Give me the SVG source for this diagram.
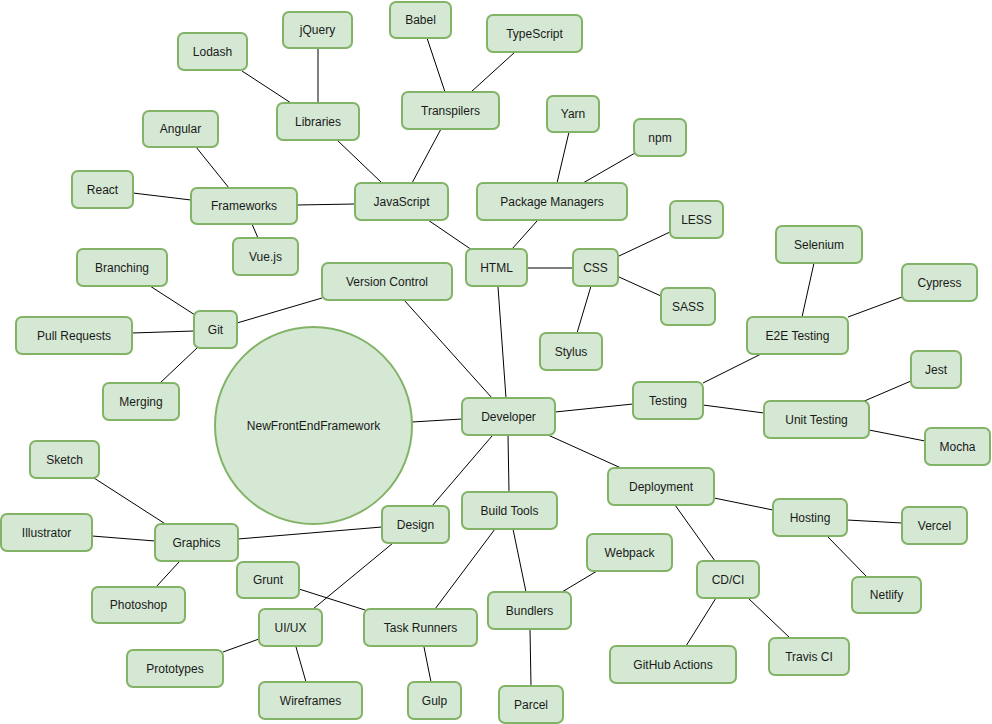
<svg xmlns="http://www.w3.org/2000/svg" width="992" height="724" viewBox="0 0 992 724">
<style>
.n rect, .n circle { fill: #d5e8d4; stroke: #82b366; stroke-width: 2; }
.n text { font-family: "Liberation Sans", Arial, sans-serif; font-size: 12px; fill: #1a1a1a; text-anchor: middle; dominant-baseline: central; }
#edges line { stroke: #000; stroke-width: 1; }
</style>
<rect width="992" height="724" fill="#fff"/>
<g id="edges">
<line x1="242" y1="71" x2="291" y2="103"/>
<line x1="318" y1="48" x2="318" y2="103"/>
<line x1="337" y1="140" x2="382" y2="183"/>
<line x1="427" y1="38" x2="445" y2="92"/>
<line x1="515" y1="52" x2="471" y2="92"/>
<line x1="441" y1="129" x2="412" y2="183"/>
<line x1="569" y1="132" x2="557" y2="183"/>
<line x1="635" y1="153" x2="583" y2="183"/>
<line x1="537" y1="221" x2="512" y2="249"/>
<line x1="428" y1="220" x2="472" y2="250"/>
<line x1="527" y1="268" x2="573" y2="268"/>
<line x1="619" y1="256" x2="670" y2="232"/>
<line x1="619" y1="277" x2="661" y2="296"/>
<line x1="591" y1="286" x2="577" y2="333"/>
<line x1="498" y1="287" x2="506" y2="398"/>
<line x1="404" y1="300" x2="492" y2="398"/>
<line x1="412" y1="422" x2="462" y2="419"/>
<line x1="555" y1="412" x2="633" y2="404"/>
<line x1="548" y1="435" x2="621" y2="468"/>
<line x1="508" y1="435" x2="509" y2="492"/>
<line x1="492" y1="436" x2="432" y2="506"/>
<line x1="703" y1="383" x2="761" y2="354"/>
<line x1="814" y1="263" x2="802" y2="317"/>
<line x1="902" y1="297" x2="848" y2="317"/>
<line x1="703" y1="405" x2="764" y2="413"/>
<line x1="911" y1="381" x2="862" y2="402"/>
<line x1="869" y1="430" x2="925" y2="441"/>
<line x1="714" y1="498" x2="773" y2="510"/>
<line x1="847" y1="520" x2="902" y2="523"/>
<line x1="828" y1="537" x2="867" y2="577"/>
<line x1="675" y1="505" x2="715" y2="561"/>
<line x1="716" y1="598" x2="686" y2="646"/>
<line x1="748" y1="598" x2="790" y2="638"/>
<line x1="562" y1="592" x2="597" y2="571"/>
<line x1="495" y1="529" x2="435" y2="609"/>
<line x1="513" y1="529" x2="526" y2="592"/>
<line x1="530" y1="629" x2="531" y2="686"/>
<line x1="382" y1="527" x2="238" y2="539"/>
<line x1="393" y1="543" x2="313" y2="609"/>
<line x1="299" y1="589" x2="365" y2="610"/>
<line x1="424" y1="647" x2="431" y2="682"/>
<line x1="259" y1="639" x2="223" y2="652"/>
<line x1="296" y1="647" x2="306" y2="682"/>
<line x1="94" y1="478" x2="167" y2="525"/>
<line x1="92" y1="536" x2="155" y2="541"/>
<line x1="179" y1="562" x2="156" y2="587"/>
<line x1="297" y1="205" x2="355" y2="204"/>
<line x1="133" y1="193" x2="191" y2="200"/>
<line x1="196" y1="147" x2="229" y2="188"/>
<line x1="252" y1="224" x2="258" y2="238"/>
<line x1="150" y1="286" x2="195" y2="315"/>
<line x1="132" y1="333" x2="194" y2="331"/>
<line x1="160" y1="383" x2="197" y2="348"/>
<line x1="237" y1="323" x2="322" y2="298"/>
</g>
<g id="center" class="n"><circle cx="313.5" cy="425.5" r="98.5"/><text x="313.5" y="425.5">NewFrontEndFramework</text></g>
<g id="lodash" class="n"><rect x="178" y="33" width="69" height="37" rx="6"/><text x="212.5" y="51.5">Lodash</text></g>
<g id="jquery" class="n"><rect x="283" y="12" width="69" height="36" rx="6"/><text x="317.5" y="30">jQuery</text></g>
<g id="libraries" class="n"><rect x="277" y="103" width="82" height="37" rx="6"/><text x="318" y="121.5">Libraries</text></g>
<g id="babel" class="n"><rect x="390" y="2" width="61" height="36" rx="6"/><text x="420.5" y="20">Babel</text></g>
<g id="typescript" class="n"><rect x="487" y="15" width="95" height="37" rx="6"/><text x="534.5" y="33.5">TypeScript</text></g>
<g id="transpilers" class="n"><rect x="402" y="92" width="97" height="37" rx="6"/><text x="450.5" y="110.5">Transpilers</text></g>
<g id="yarn" class="n"><rect x="547" y="96" width="52" height="36" rx="6"/><text x="573" y="114">Yarn</text></g>
<g id="npm" class="n"><rect x="634" y="119" width="52" height="37" rx="6"/><text x="660" y="137.5">npm</text></g>
<g id="packagemanagers" class="n"><rect x="477" y="183" width="150" height="37" rx="6"/><text x="552" y="201.5">Package Managers</text></g>
<g id="angular" class="n"><rect x="143" y="111" width="75" height="36" rx="6"/><text x="180.5" y="129">Angular</text></g>
<g id="react" class="n"><rect x="72" y="171" width="61" height="37" rx="6"/><text x="102.5" y="189.5">React</text></g>
<g id="frameworks" class="n"><rect x="191" y="188" width="106" height="36" rx="6"/><text x="244" y="206">Frameworks</text></g>
<g id="javascript" class="n"><rect x="355" y="183" width="93" height="37" rx="6"/><text x="401.5" y="201.5">JavaScript</text></g>
<g id="vuejs" class="n"><rect x="233" y="238" width="65" height="37" rx="6"/><text x="265.5" y="256.5">Vue.js</text></g>
<g id="branching" class="n"><rect x="77" y="249" width="90" height="37" rx="6"/><text x="122" y="267.5">Branching</text></g>
<g id="versioncontrol" class="n"><rect x="322" y="263" width="130" height="37" rx="6"/><text x="387" y="281.5">Version Control</text></g>
<g id="html" class="n"><rect x="466" y="249" width="61" height="37" rx="6"/><text x="496.5" y="267.5">HTML</text></g>
<g id="css" class="n"><rect x="573" y="249" width="45" height="37" rx="6"/><text x="595.5" y="267.5">CSS</text></g>
<g id="less" class="n"><rect x="670" y="201" width="53" height="37" rx="6"/><text x="696.5" y="219.5">LESS</text></g>
<g id="sass" class="n"><rect x="661" y="288" width="54" height="37" rx="6"/><text x="688" y="306.5">SASS</text></g>
<g id="stylus" class="n"><rect x="540" y="333" width="62" height="37" rx="6"/><text x="571" y="351.5">Stylus</text></g>
<g id="selenium" class="n"><rect x="776" y="226" width="86" height="37" rx="6"/><text x="819" y="244.5">Selenium</text></g>
<g id="cypress" class="n"><rect x="902" y="264" width="75" height="37" rx="6"/><text x="939.5" y="282.5">Cypress</text></g>
<g id="git" class="n"><rect x="194" y="311" width="43" height="37" rx="6"/><text x="215.5" y="329.5">Git</text></g>
<g id="pullrequests" class="n"><rect x="16" y="317" width="116" height="37" rx="6"/><text x="74" y="335.5">Pull Requests</text></g>
<g id="e2etesting" class="n"><rect x="747" y="317" width="101" height="37" rx="6"/><text x="797.5" y="335.5">E2E Testing</text></g>
<g id="jest" class="n"><rect x="911" y="351" width="50" height="37" rx="6"/><text x="936" y="369.5">Jest</text></g>
<g id="merging" class="n"><rect x="103" y="383" width="76" height="37" rx="6"/><text x="141" y="401.5">Merging</text></g>
<g id="testing" class="n"><rect x="633" y="382" width="70" height="37" rx="6"/><text x="668" y="400.5">Testing</text></g>
<g id="developer" class="n"><rect x="462" y="398" width="93" height="37" rx="6"/><text x="508.5" y="416.5">Developer</text></g>
<g id="unittesting" class="n"><rect x="764" y="401" width="105" height="37" rx="6"/><text x="816.5" y="419.5">Unit Testing</text></g>
<g id="mocha" class="n"><rect x="925" y="428" width="65" height="37" rx="6"/><text x="957.5" y="446.5">Mocha</text></g>
<g id="sketch" class="n"><rect x="30" y="441" width="69" height="37" rx="6"/><text x="64.5" y="459.5">Sketch</text></g>
<g id="deployment" class="n"><rect x="608" y="468" width="106" height="37" rx="6"/><text x="661" y="486.5">Deployment</text></g>
<g id="buildtools" class="n"><rect x="462" y="492" width="95" height="37" rx="6"/><text x="509.5" y="510.5">Build Tools</text></g>
<g id="design" class="n"><rect x="382" y="506" width="67" height="37" rx="6"/><text x="415.5" y="524.5">Design</text></g>
<g id="hosting" class="n"><rect x="773" y="499" width="74" height="37" rx="6"/><text x="810" y="517.5">Hosting</text></g>
<g id="vercel" class="n"><rect x="902" y="507" width="65" height="37" rx="6"/><text x="934.5" y="525.5">Vercel</text></g>
<g id="illustrator" class="n"><rect x="1" y="514" width="91" height="37" rx="6"/><text x="46.5" y="532.5">Illustrator</text></g>
<g id="graphics" class="n"><rect x="155" y="524" width="83" height="37" rx="6"/><text x="196.5" y="542.5">Graphics</text></g>
<g id="webpack" class="n"><rect x="587" y="534" width="85" height="37" rx="6"/><text x="629.5" y="552.5">Webpack</text></g>
<g id="grunt" class="n"><rect x="237" y="562" width="62" height="36" rx="6"/><text x="268" y="580">Grunt</text></g>
<g id="cdci" class="n"><rect x="697" y="561" width="62" height="37" rx="6"/><text x="728" y="579.5">CD/CI</text></g>
<g id="netlify" class="n"><rect x="852" y="577" width="69" height="36" rx="6"/><text x="886.5" y="595">Netlify</text></g>
<g id="photoshop" class="n"><rect x="92" y="587" width="93" height="36" rx="6"/><text x="138.5" y="605">Photoshop</text></g>
<g id="uiux" class="n"><rect x="259" y="609" width="63" height="37" rx="6"/><text x="290.5" y="627.5">UI/UX</text></g>
<g id="taskrunners" class="n"><rect x="364" y="609" width="113" height="37" rx="6"/><text x="420.5" y="627.5">Task Runners</text></g>
<g id="bundlers" class="n"><rect x="488" y="592" width="83" height="37" rx="6"/><text x="529.5" y="610.5">Bundlers</text></g>
<g id="prototypes" class="n"><rect x="127" y="650" width="96" height="37" rx="6"/><text x="175" y="668.5">Prototypes</text></g>
<g id="travisci" class="n"><rect x="769" y="638" width="80" height="37" rx="6"/><text x="809" y="656.5">Travis CI</text></g>
<g id="githubactions" class="n"><rect x="610" y="646" width="126" height="37" rx="6"/><text x="673" y="664.5">GitHub Actions</text></g>
<g id="wireframes" class="n"><rect x="259" y="682" width="103" height="37" rx="6"/><text x="310.5" y="700.5">Wireframes</text></g>
<g id="gulp" class="n"><rect x="408" y="682" width="53" height="37" rx="6"/><text x="434.5" y="700.5">Gulp</text></g>
<g id="parcel" class="n"><rect x="499" y="686" width="64" height="37" rx="6"/><text x="531" y="704.5">Parcel</text></g>
</svg>
